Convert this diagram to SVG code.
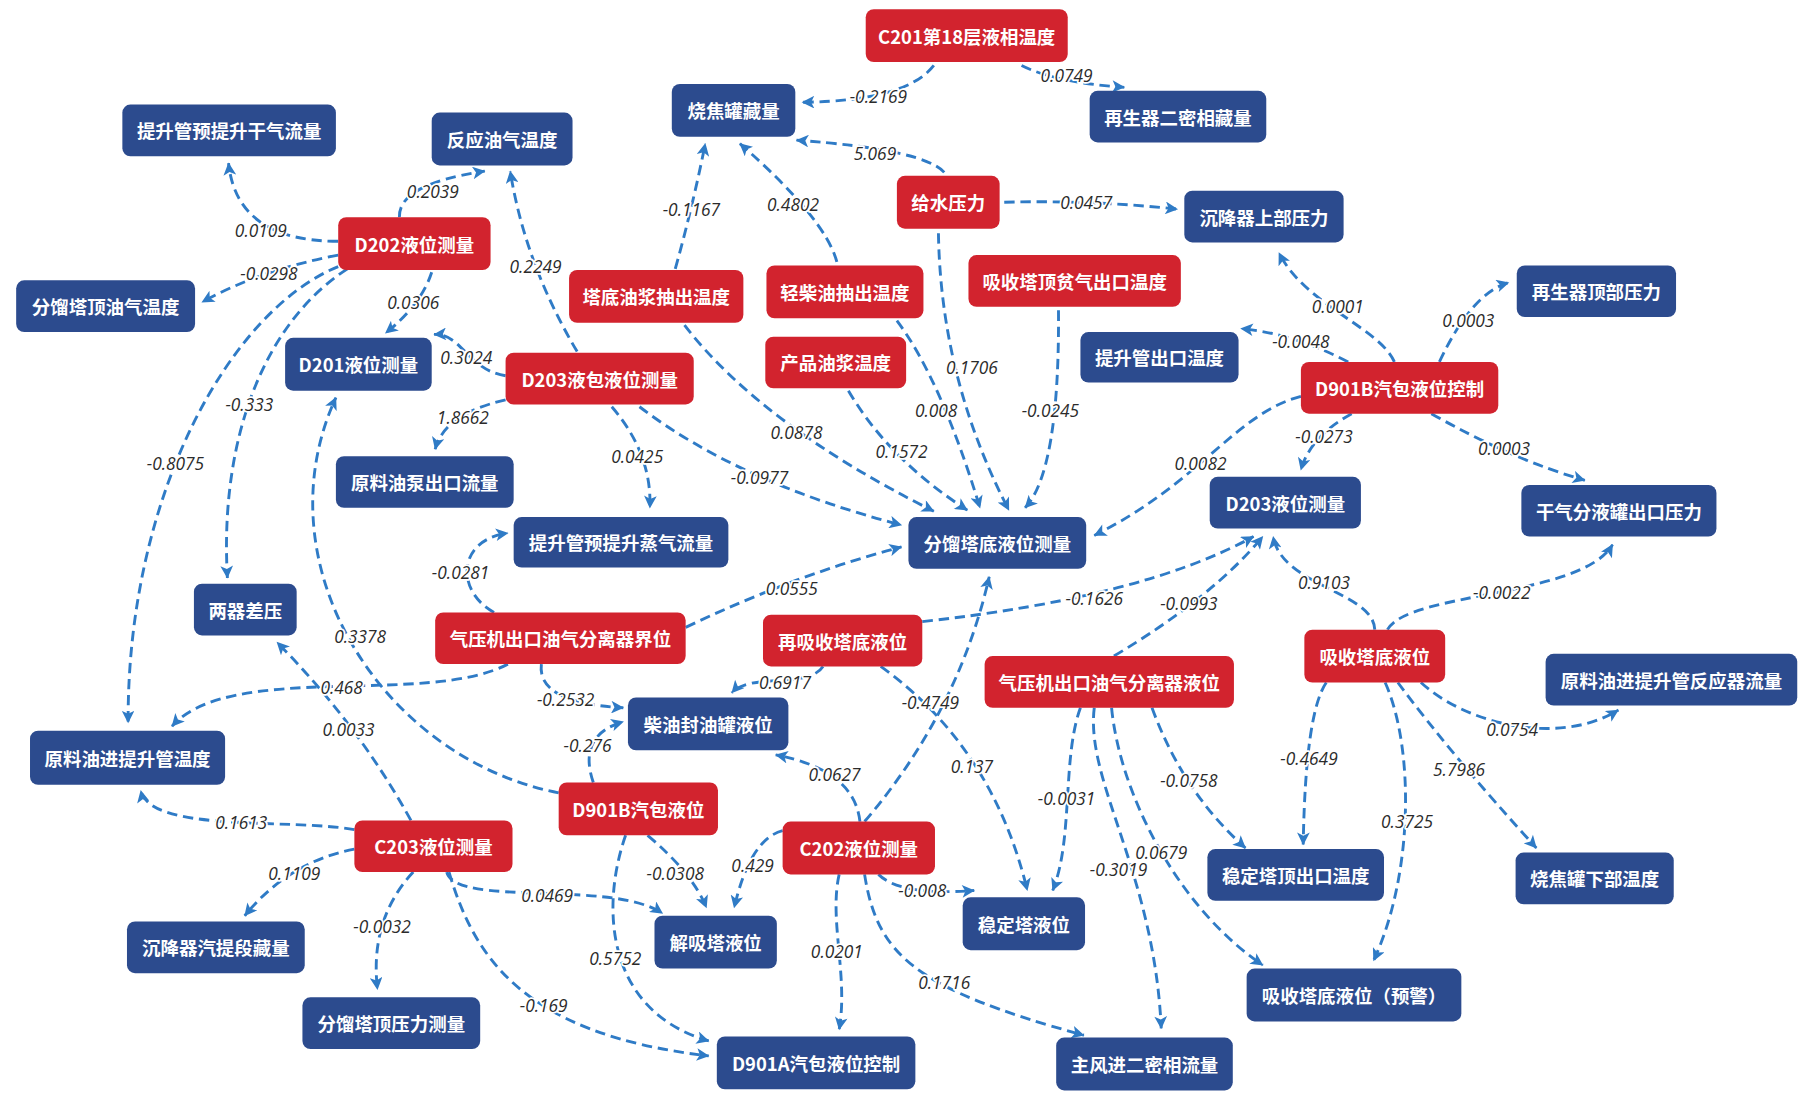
<svg xmlns="http://www.w3.org/2000/svg" width="1810" height="1103" viewBox="0 0 1810 1103">
<style>
.n rect{rx:7px;ry:7px}
.red rect{fill:#D2232E}
.blue rect{fill:#2C4B8E}
.n text{font-family:"Noto Sans CJK SC","Liberation Sans",sans-serif;font-size:16px;font-weight:700;fill:#fff;text-anchor:middle;dominant-baseline:central}
#connectors path{fill:none;stroke:#2F7BC6;stroke-width:2.5;stroke-dasharray:9 5;marker-end:url(#arr)}
#labels text{font-family:"Open Sans","Liberation Sans",sans-serif;font-style:italic;font-size:15px;fill:#2b2b2b;text-anchor:middle;dominant-baseline:central;stroke:#fff;stroke-width:3px;paint-order:stroke;stroke-linejoin:round}
</style>
<defs>
<marker id="arr" viewBox="0 0 10 10" refX="9.5" refY="5" markerWidth="12" markerHeight="11" markerUnits="userSpaceOnUse" orient="auto">
<path d="M0,0 L10,5 L0,10 L2.5,5 z" fill="#2F7BC6"/>
</marker>
</defs>
<rect width="1810" height="1103" fill="#fff"/>
<g transform="scale(1.1543,1.149)">
<g id="connectors">
<path d="M809,57 Q785,88 695,89"/>
<path d="M885,57 Q915,72 974,76"/>
<path d="M818,150 Q800,130 690,122"/>
<path d="M870,176 Q945,174 1020,182"/>
<path d="M813,203 Q815,330 874,444"/>
<path d="M917,270 Q918,410 888,442"/>
<path d="M725,228 Q715,190 641,125"/>
<path d="M777,279 Q815,330 849,442"/>
<path d="M585,234 Q600,180 611,125"/>
<path d="M593,283 Q660,370 809,445"/>
<path d="M735,340 Q770,400 838,444"/>
<path d="M500,306 Q455,230 442,149"/>
<path d="M438,327 C405,322 400,290 376,291"/>
<path d="M438,348 Q385,360 377,391"/>
<path d="M530,354 Q565,395 563,442"/>
<path d="M554,354 Q640,420 781,457"/>
<path d="M293,210 Q205,210 198,142"/>
<path d="M293,222 Q225,235 175,263"/>
<path d="M346,189 Q345,160 420,149"/>
<path d="M374,237 Q365,265 334,290"/>
<path d="M301,234 C230,280 190,380 197,503"/>
<path d="M293,232 C200,270 110,430 111,629"/>
<path d="M428,533 C395,515 395,470 440,464"/>
<path d="M594,546 Q690,500 781,476"/>
<path d="M440,578 C370,615 200,575 149,632"/>
<path d="M469,578 Q465,612 540,616"/>
<path d="M713,580 C700,600 650,585 634,603"/>
<path d="M763,580 Q860,650 890,775"/>
<path d="M799,541 Q990,520 1086,467"/>
<path d="M965,571 Q1050,520 1094,467"/>
<path d="M1191,548 C1190,515 1110,510 1103,467"/>
<path d="M1171,360 Q1135,380 1127,409"/>
<path d="M1127,345 C1070,360 1040,420 948,466"/>
<path d="M1240,360 Q1310,400 1373,418"/>
<path d="M1208,315 C1195,285 1130,265 1108,220"/>
<path d="M1247,315 Q1275,255 1307,246"/>
<path d="M1168,315 Q1120,290 1075,286"/>
<path d="M1202,548 C1220,515 1370,520 1397,474"/>
<path d="M1231,594 C1270,630 1350,650 1402,618"/>
<path d="M1149,594 Q1131,620 1129,735"/>
<path d="M1200,594 C1225,650 1225,760 1190,836"/>
<path d="M1211,594 Q1260,660 1331,738"/>
<path d="M936,616 C920,660 930,730 912,775"/>
<path d="M948,616 C940,680 1000,760 1006,895"/>
<path d="M963,616 C970,690 1020,790 1094,840"/>
<path d="M998,616 Q1025,690 1079,738"/>
<path d="M749,715 Q830,620 857,502"/>
<path d="M745,715 Q740,670 672,657"/>
<path d="M678,723 Q650,730 636,790"/>
<path d="M761,761 Q780,780 844,775"/>
<path d="M727,761 C718,800 735,850 727,896"/>
<path d="M749,761 C760,830 790,860 939,901"/>
<path d="M484,690 C330,660 225,490 291,346"/>
<path d="M514,681 Q500,640 540,628"/>
<path d="M561,727 Q600,760 612,790"/>
<path d="M542,727 C520,790 525,880 614,906"/>
<path d="M356,714 Q310,630 240,559"/>
<path d="M307,722 C250,712 130,725 122,688"/>
<path d="M307,739 Q250,750 212,797"/>
<path d="M358,759 Q320,800 327,861"/>
<path d="M387,759 C395,790 530,765 574,795"/>
<path d="M389,759 C410,830 450,900 614,919"/>
</g>
<g id="labels">
<text x="761" y="84">-0.2169</text>
<text x="924" y="66">0.0749</text>
<text x="758" y="134">5.069</text>
<text x="941" y="176">0.0457</text>
<text x="842" y="320">0.1706</text>
<text x="910" y="357">-0.0245</text>
<text x="687" y="178">0.4802</text>
<text x="811" y="357">0.008</text>
<text x="599" y="182">-0.1167</text>
<text x="690" y="376">0.0878</text>
<text x="781" y="393">0.1572</text>
<text x="464" y="232">0.2249</text>
<text x="404" y="311">0.3024</text>
<text x="401" y="363">1.8662</text>
<text x="552" y="397">0.0425</text>
<text x="658" y="416">-0.0977</text>
<text x="226" y="201">0.0109</text>
<text x="233" y="238">-0.0298</text>
<text x="375" y="167">0.2039</text>
<text x="358" y="263">0.0306</text>
<text x="216" y="352">-0.333</text>
<text x="152" y="403">-0.8075</text>
<text x="399" y="498">-0.0281</text>
<text x="686" y="512">0.0555</text>
<text x="296" y="598">0.468</text>
<text x="490" y="609">-0.2532</text>
<text x="680" y="594">0.6917</text>
<text x="842" y="667">0.137</text>
<text x="948" y="521">-0.1626</text>
<text x="1030" y="525">-0.0993</text>
<text x="1147" y="507">0.9103</text>
<text x="1147" y="380">-0.0273</text>
<text x="1040" y="403">0.0082</text>
<text x="1303" y="390">0.0003</text>
<text x="1159" y="267">0.0001</text>
<text x="1272" y="279">0.0003</text>
<text x="1127" y="297">-0.0048</text>
<text x="1301" y="516">-0.0022</text>
<text x="1310" y="635">0.0754</text>
<text x="1134" y="660">-0.4649</text>
<text x="1219" y="715">0.3725</text>
<text x="1264" y="670">5.7986</text>
<text x="924" y="695">-0.0031</text>
<text x="969" y="757">-0.3019</text>
<text x="1006" y="742">0.0679</text>
<text x="1030" y="679">-0.0758</text>
<text x="806" y="611">-0.4749</text>
<text x="723" y="674">0.0627</text>
<text x="652" y="753">0.429</text>
<text x="799" y="775">-0.008</text>
<text x="725" y="828">0.0201</text>
<text x="818" y="855">0.1716</text>
<text x="312" y="554">0.3378</text>
<text x="509" y="649">-0.276</text>
<text x="585" y="760">-0.0308</text>
<text x="533" y="834">0.5752</text>
<text x="302" y="635">0.0033</text>
<text x="209" y="716">0.1613</text>
<text x="255" y="760">0.1109</text>
<text x="331" y="806">-0.0032</text>
<text x="474" y="779">0.0469</text>
<text x="471" y="875">-0.169</text>
</g>
<g id="n-c201" class="n red"><rect x="750" y="8" width="175" height="46"/><text x="837.5" y="31">C201第18层液相温度</text></g>
<g id="n-gsyl" class="n red"><rect x="777" y="153" width="89" height="46"/><text x="821.5" y="176">给水压力</text></g>
<g id="n-d202" class="n red"><rect x="293" y="189" width="132" height="46"/><text x="359" y="212">D202液位测量</text></g>
<g id="n-tdyj" class="n red"><rect x="493" y="235" width="151" height="46"/><text x="568.5" y="258">塔底油浆抽出温度</text></g>
<g id="n-qcy" class="n red"><rect x="664" y="231" width="136" height="46"/><text x="732" y="254">轻柴油抽出温度</text></g>
<g id="n-xstd" class="n red"><rect x="839" y="222" width="184" height="45"/><text x="931" y="244.5">吸收塔顶贫气出口温度</text></g>
<g id="n-cpyj" class="n red"><rect x="663" y="293" width="122" height="45"/><text x="724" y="315.5">产品油浆温度</text></g>
<g id="n-d203b" class="n red"><rect x="438" y="307" width="163" height="45"/><text x="519.5" y="329.5">D203液包液位测量</text></g>
<g id="n-d901bk" class="n red"><rect x="1127" y="315" width="171" height="45"/><text x="1212.5" y="337.5">D901B汽包液位控制</text></g>
<g id="n-qyjj" class="n red"><rect x="377" y="533" width="217" height="45"/><text x="485.5" y="555.5">气压机出口油气分离器界位</text></g>
<g id="n-zxs" class="n red"><rect x="661" y="535" width="138" height="45"/><text x="730" y="557.5">再吸收塔底液位</text></g>
<g id="n-qyjy" class="n red"><rect x="853" y="571" width="216" height="45"/><text x="961" y="593.5">气压机出口油气分离器液位</text></g>
<g id="n-xstdy" class="n red"><rect x="1130" y="548" width="122" height="46"/><text x="1191" y="571">吸收塔底液位</text></g>
<g id="n-d901b" class="n red"><rect x="484" y="681" width="138" height="46"/><text x="553" y="704">D901B汽包液位</text></g>
<g id="n-c203" class="n red"><rect x="307" y="714" width="137" height="45"/><text x="375.5" y="736.5">C203液位测量</text></g>
<g id="n-c202" class="n red"><rect x="678" y="715" width="132" height="46"/><text x="744" y="738">C202液位测量</text></g>
<g id="n-tsgg" class="n blue"><rect x="106" y="91" width="185" height="45"/><text x="198.5" y="113.5">提升管预提升干气流量</text></g>
<g id="n-fyyq" class="n blue"><rect x="374" y="98" width="122" height="46"/><text x="435" y="121">反应油气温度</text></g>
<g id="n-sjgc" class="n blue"><rect x="582" y="73" width="107" height="46"/><text x="635.5" y="96">烧焦罐藏量</text></g>
<g id="n-zsqem" class="n blue"><rect x="944" y="79" width="153" height="45"/><text x="1020.5" y="101.5">再生器二密相藏量</text></g>
<g id="n-cjsb" class="n blue"><rect x="1026" y="166" width="138" height="45"/><text x="1095" y="188.5">沉降器上部压力</text></g>
<g id="n-zsqdb" class="n blue"><rect x="1314" y="231" width="138" height="45"/><text x="1383" y="253.5">再生器顶部压力</text></g>
<g id="n-flttyq" class="n blue"><rect x="14" y="244" width="155" height="45"/><text x="91.5" y="266.5">分馏塔顶油气温度</text></g>
<g id="n-d201" class="n blue"><rect x="247" y="294" width="127" height="46"/><text x="310.5" y="317">D201液位测量</text></g>
<g id="n-tsgck" class="n blue"><rect x="936" y="289" width="137" height="44"/><text x="1004.5" y="311">提升管出口温度</text></g>
<g id="n-ylyb" class="n blue"><rect x="291" y="397" width="154" height="45"/><text x="368" y="419.5">原料油泵出口流量</text></g>
<g id="n-d203" class="n blue"><rect x="1048" y="415" width="131" height="45"/><text x="1113.5" y="437.5">D203液位测量</text></g>
<g id="n-gqfy" class="n blue"><rect x="1318" y="422" width="169" height="45"/><text x="1402.5" y="444.5">干气分液罐出口压力</text></g>
<g id="n-tszq" class="n blue"><rect x="445" y="450" width="186" height="44"/><text x="538" y="472">提升管预提升蒸气流量</text></g>
<g id="n-fltd" class="n blue"><rect x="787" y="450" width="154" height="45"/><text x="864" y="472.5">分馏塔底液位测量</text></g>
<g id="n-lqcy" class="n blue"><rect x="168" y="508" width="89" height="45"/><text x="212.5" y="530.5">两器差压</text></g>
<g id="n-yljfl" class="n blue"><rect x="1339" y="569" width="218" height="45"/><text x="1448" y="591.5">原料油进提升管反应器流量</text></g>
<g id="n-cyfy" class="n blue"><rect x="544" y="607" width="139" height="46"/><text x="613.5" y="630">柴油封油罐液位</text></g>
<g id="n-yljwd" class="n blue"><rect x="26" y="636" width="169" height="47"/><text x="110.5" y="659.5">原料油进提升管温度</text></g>
<g id="n-wdtd" class="n blue"><rect x="1046" y="739" width="153" height="45"/><text x="1122.5" y="761.5">稳定塔顶出口温度</text></g>
<g id="n-sjgxb" class="n blue"><rect x="1313" y="742" width="137" height="45"/><text x="1381.5" y="764.5">烧焦罐下部温度</text></g>
<g id="n-cjqtt" class="n blue"><rect x="110" y="802" width="154" height="45"/><text x="187" y="824.5">沉降器汽提段藏量</text></g>
<g id="n-jxt" class="n blue"><rect x="567" y="797" width="106" height="46"/><text x="620" y="820">解吸塔液位</text></g>
<g id="n-wdt" class="n blue"><rect x="834" y="781" width="106" height="46"/><text x="887" y="804">稳定塔液位</text></g>
<g id="n-xstdyj" class="n blue"><rect x="1080" y="843" width="186" height="46"/><text x="1173" y="866">吸收塔底液位（预警）</text></g>
<g id="n-flttyl" class="n blue"><rect x="262" y="868" width="154" height="45"/><text x="339" y="890.5">分馏塔顶压力测量</text></g>
<g id="n-d901a" class="n blue"><rect x="621" y="902" width="172" height="46"/><text x="707" y="925">D901A汽包液位控制</text></g>
<g id="n-zfj" class="n blue"><rect x="915" y="903" width="153" height="46"/><text x="991.5" y="926">主风进二密相流量</text></g>
</g>
</svg>
